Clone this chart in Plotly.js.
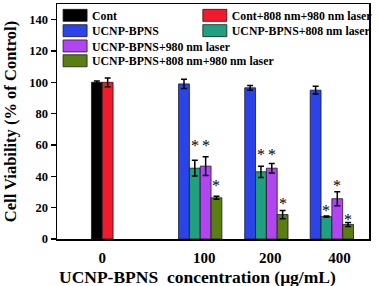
<!DOCTYPE html>
<html>
<head>
<meta charset="utf-8">
<script src="https://cdn.plot.ly/plotly-3.0.1.min.js"></script>
<style>html,body{margin:0;padding:0;background:#fff}#chart{width:378px;height:286px}</style>
</head>
<body>
<div id="chart"></div>
<script>
// ---- data ----
const groupLabels = ['0', '100', '200', '400'];
const groupPos = [4.18, 13.23, 19.34, 25.39];      // bar-group centres on the x axis
const tickPos = [4.18, 13.6, 19.7, 26.1];          // where the tick labels sit

const contVals = [100];
const contErr = [0.8];
const contLaserVals = [100];
const contLaserErr = [2.8];

const bpnsVals = [99, 96.5, 95];
const bpnsErr = [3, 1.5, 2.5];
const bpns808Vals = [45.2, 42.9, 14.3];
const bpns808Err = [5, 3.6, 0.4];
const bpns980Vals = [46.5, 45.2, 25.7];
const bpns980Err = [6, 3, 4.5];
const bpnsBothVals = [26.3, 15.6, 9.3];
const bpnsBothErr = [1, 2.6, 1.3];

// heights (in % units) of the significance asterisks
const bpns808Star = [61.3, 55.6, 20.4];
const bpns980Star = [61.3, 55.6, 36.1];
const bpnsBothStar = [35.9, 24.6, 14.3];

const yTicks = [0, 20, 40, 60, 80, 100, 120, 140];
const xTitle = 'UCNP-BPNS\u00A0\u00A0concentration (μg/mL)';
const yTitle = 'Cell Viability (% of Control)';

// ---- chart ----
const serif = 'Liberation Serif, Times New Roman, serif';
const zeroX = [groupPos[0]];
const concX = groupPos.slice(1);

function barTrace(name, x, y, err, color, offset, legend) {
  return {
    type: 'bar', name: name, x: x, y: y,
    offset: offset, width: 1,
    marker: {color: color, line: {color: '#1a1a1a', width: 0.8}},
    error_y: {type: 'data', array: err, visible: true, color: '#000', thickness: 1.5, width: 3},
    legend: legend, hoverinfo: 'skip'
  };
}

const traces = [
  barTrace('Cont', zeroX, contVals, contErr, '#000000', -1, 'legend'),
  barTrace('Cont+808 nm+980 nm laser', zeroX, contLaserVals, contLaserErr, '#F21A2B', 0, 'legend2'),
  barTrace('UCNP-BPNS', concX, bpnsVals, bpnsErr, '#2A44EA', -2, 'legend3'),
  barTrace('UCNP-BPNS+808 nm laser', concX, bpns808Vals, bpns808Err, '#1FA07F', -1, 'legend4'),
  barTrace('UCNP-BPNS+980 nm laser', concX, bpns980Vals, bpns980Err, '#B245F2', 0, 'legend5'),
  barTrace('UCNP-BPNS+808 nm+980 nm laser', concX, bpnsBothVals, bpnsBothErr, '#5B7E12', 1, 'legend6')
];

const plotL = 57, plotW = 317, plotTop = 1, plotBottom = 239, plotH = plotBottom - plotTop;

const annotations = [];
function addStars(x, starY, offset) {
  for (let i = 0; i < starY.length; i++) {
    if (starY[i] == null) continue;
    annotations.push({
      x: x[i] + offset + 0.5, y: starY[i], xref: 'x', yref: 'y',
      text: '*', showarrow: false, yanchor: 'middle', yshift: -3,
      font: {family: serif, size: 16, color: '#000000'}
    });
  }
}
addStars(concX, bpns808Star, -1);
addStars(concX, bpns980Star, 0);
addStars(concX, bpnsBothStar, 1);

// x-axis title (sits slightly left of the plot centre in the original)
annotations.push({
  text: xTitle, xref: 'paper', yref: 'paper',
  x: (200 - plotL) / plotW, y: (plotBottom - 277) / plotH,
  xanchor: 'center', yanchor: 'middle', showarrow: false,
  font: {family: serif, size: 17.5, color: '#000', weight: 'bold'}
});

const legFont = {family: serif, size: 11.8, color: '#000', weight: 'bold'};
function leg(px, rowY) {
  return {
    orientation: 'h',
    x: (px - plotL) / plotW, xanchor: 'left',
    y: (plotBottom - rowY) / plotH, yanchor: 'middle',
    font: legFont, bgcolor: 'rgba(0,0,0,0)', borderwidth: 0
  };
}
const col1 = 52, col2 = 194;
const rows = [12.5, 28, 43.5, 58.5];

const layout = {
  width: 378, height: 286,
  margin: {l: 57, r: 4, t: 1, b: 47},
  paper_bgcolor: '#fff', plot_bgcolor: '#fff',
  barmode: 'overlay',
  showlegend: true,
  legend: leg(col1, rows[0]),
  legend2: leg(col2, rows[0]),
  legend3: leg(col1, rows[1]),
  legend4: leg(col2, rows[1]),
  legend5: leg(col1, rows[2]),
  legend6: leg(col1, rows[3]),
  xaxis: {
    range: [0, 28.82], tickvals: tickPos, ticktext: groupLabels,
    showline: true, linecolor: '#000', linewidth: 1.5, mirror: true,
    ticks: '', showgrid: false, zeroline: false,
    tickfont: {family: serif, size: 15, color: '#000', weight: 'bold'},
    ticklabelstandoff: 4
  },
  yaxis: {
    range: [0, 150], tickvals: yTicks,
    showline: true, linecolor: '#000', linewidth: 1.5, mirror: true,
    ticks: 'outside', ticklen: 5, tickwidth: 1.5, tickcolor: '#000',
    showgrid: false, zeroline: false,
    tickfont: {family: serif, size: 12.5, color: '#000', weight: 'bold'},
    title: {text: yTitle, standoff: 8,
            font: {family: serif, size: 16.5, color: '#000', weight: 'bold'}}
  },
  annotations: annotations
};

const gd = document.getElementById('chart');
function widenSwatches() {
  gd.querySelectorAll('.legendpoints path').forEach(function (p) {
    p.setAttribute('d', 'M15,6H-9V-6H15Z');
  });
}
Plotly.newPlot(gd, traces, layout, {displayModeBar: false, staticPlot: true}).then(function () {
  widenSwatches();
  gd.on('plotly_afterplot', widenSwatches);
});
</script>
</body>
</html>
